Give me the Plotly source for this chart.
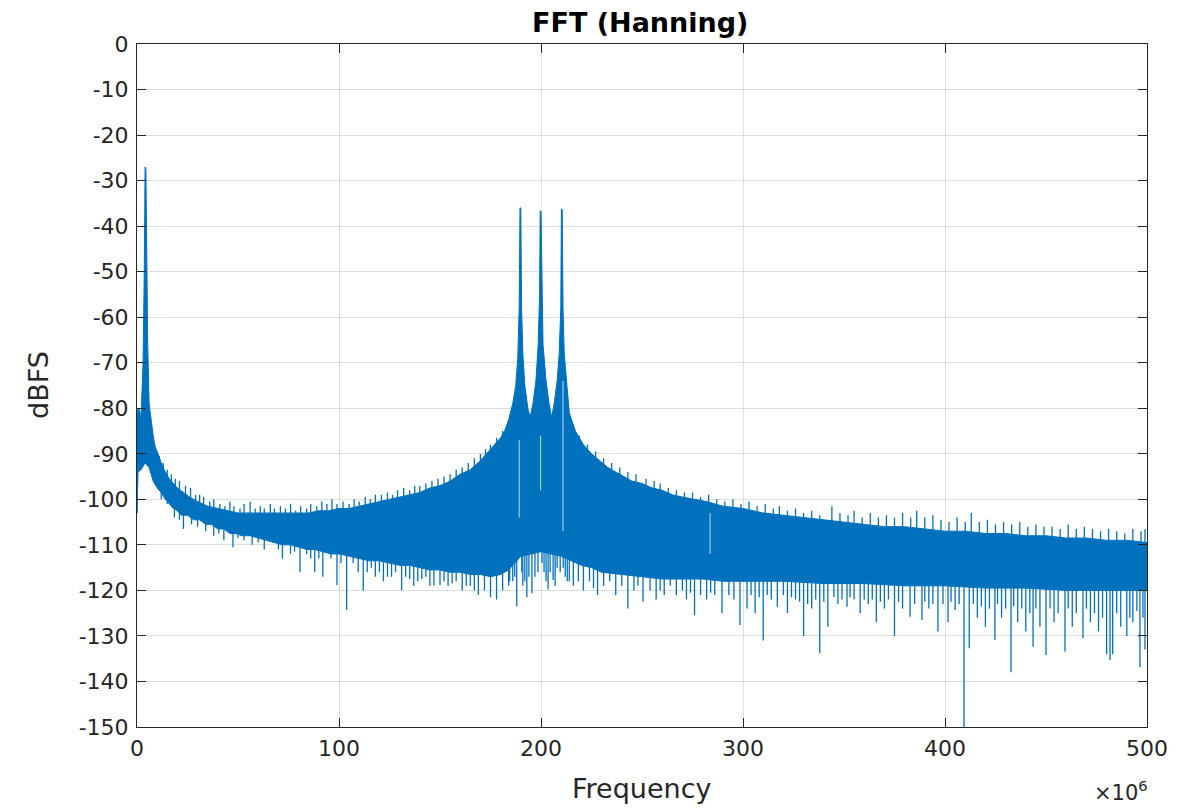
import plotly.graph_objects as go

# ---------------- data ----------------
# frequency in MHz (axis shows x10^6 Hz), level in dBFS

# solid body of the spectrum: top edge
upper_f = [0, 1, 2, 3, 3.6, 4.0, 4.4, 4.8, 5.3, 6, 7, 8, 9, 10, 12, 14, 16, 18, 20, 23, 26,
           30, 35, 40, 45, 50, 55, 60, 65, 70, 75, 80, 85, 90, 95, 100, 105, 110, 115, 120,
           125, 130, 135, 140, 145, 150, 155, 160, 165, 170, 174, 177, 180, 182, 184, 186,
           187.5, 188.5, 189.2, 189.6, 190.0, 190.4, 191, 192, 193.5, 194.6, 196, 197.5,
           198.6, 199.3, 199.6, 200.0, 200.4, 201, 202.5, 204, 205.3, 206.5, 208, 209,
           209.8, 210.1, 210.5, 210.9, 211.5, 212.5, 214, 217, 221, 225, 229, 233, 237,
           241, 245, 250, 255, 260, 265, 270, 276, 282, 290, 300, 310, 320, 330, 340, 350,
           360, 370, 380, 390, 400, 410, 420, 430, 440, 450, 460, 470, 480, 490, 500]
upper_db = [-81, -80, -82, -70, -50, -27, -27.5, -55, -66, -79, -83, -86, -88.5, -89.5, -92,
            -94, -95.5, -96.5, -97.5, -98.5, -99.5, -100.5, -101.5, -102, -102.5, -103, -103,
            -103, -103, -103, -103, -103, -103, -102.5, -102.5, -102, -102, -101.5, -101,
            -100.5, -100, -99.5, -99, -98.5, -97.5, -97, -96, -94.5, -93.5, -91.5, -89.5,
            -88, -86.5, -85, -82.5, -79, -75, -69, -58, -36, -36, -58, -68, -75, -80, -82,
            -79, -74, -66, -55, -36.7, -36.7, -55, -66, -74, -79, -82, -79, -74, -68, -58,
            -36.3, -36.3, -58, -68, -74, -81, -85, -88, -90, -91.5, -93, -94, -95, -96,
            -96.5, -97.5, -98, -99, -99.5, -100, -100.5, -101.5, -102, -103, -103.5, -104,
            -104.5, -105, -105.5, -106, -106, -106.5, -107, -107, -107.5, -107.5, -108, -108,
            -108.5, -108.5, -109, -109, -109.5]

# solid body of the spectrum: bottom edge
lower_f = [0, 0.5, 2, 4, 6, 8, 10, 12, 14, 16, 18, 20, 22, 25, 28, 31, 34, 37, 40, 43, 46,
           49, 52, 56, 60, 64, 68, 72, 76, 80, 84, 88, 92, 96, 100, 105, 110, 115, 120, 125,
           130, 135, 140, 145, 150, 155, 160, 165, 170, 175, 180, 184, 187, 190, 195, 200,
           205, 210, 215, 220, 225, 230, 240, 250, 260, 270, 280, 290, 300, 320, 340, 360,
           380, 400, 420, 440, 460, 480, 500]
lower_db = [-103, -94, -93.5, -92, -93, -96, -97.5, -98.5, -100, -101, -102, -102.5, -103.5,
            -103.5, -104.5, -104.5, -105.5, -105.5, -106.5, -106.5, -107.5, -107.5, -108,
            -108, -108.5, -109, -109.5, -110, -110, -110.5, -111, -111, -111.5, -112, -112,
            -112.5, -113, -113.5, -113.5, -114, -114.5, -114.5, -115, -115.5, -115.5, -116,
            -116, -116.5, -116.5, -117, -116.5, -115.5, -114, -112.5, -112, -111.5, -112,
            -112.5, -113.5, -114.5, -115, -116, -116.5, -117, -117.5, -117.5, -117.5, -118,
            -118, -118, -118.5, -118.5, -119, -119, -119.5, -119.5, -120, -120, -120]

# short upward hairs above the body: frequency, tip, end inside the body
up_f = [11, 13, 15, 17, 19, 21, 24, 26.5, 29, 31,
        33, 36, 38, 41, 43.5, 46, 48, 51, 53, 56,
        58.5, 61, 63, 66, 68, 71, 73.5, 76, 78.5, 81,
        84, 86, 89, 91.5, 94, 96.5, 99, 102, 105, 107.5,
        110, 113, 115.5, 118, 121, 124, 126.5, 129, 132, 135,
        137.5, 140, 143, 146, 149, 152, 155, 158, 161, 164,
        167, 170, 172.5, 175, 178, 181, 216, 219, 223, 227,
        231, 235, 239, 243, 247, 252, 256, 259, 263, 267,
        271, 275, 279, 283, 287, 291, 295, 299, 303, 307,
        311, 315, 318, 322, 326, 330, 334, 338, 344, 348,
        352, 355, 359, 363, 367, 371, 375, 379, 383, 386,
        390, 394, 398, 402, 406, 410, 413, 417, 421, 425,
        429, 433, 437, 441, 445, 449, 453, 457, 461, 465,
        469, 473, 477, 481, 485, 489, 493, 497, 499]
up_hi = [-90.5, -92, -93.5, -94.5, -95.5, -96, -97, -97.5, -99, -99,
         -99.5, -100.5, -100, -101, -101.5, -100.5, -101.5, -102, -101, -100.5,
         -102, -101.5, -102, -101, -102, -101.5, -102, -101, -102.5, -101.5,
         -102, -101, -101.5, -100.5, -101, -100, -101, -100.5, -101, -100,
         -100.5, -99.5, -100, -99, -99, -98.5, -99, -98, -97.5, -98,
         -97, -97, -96.5, -96, -95.5, -95, -94.5, -93.5, -93, -92,
         -91, -90, -89, -88, -86.5, -85, -83.5, -86, -88, -89.5,
         -91, -92, -93, -94, -94.5, -95.5, -96, -96.5, -97.5, -98,
         -98.5, -98.5, -99.5, -99, -100, -100.5, -100, -101, -100.5, -101.5,
         -101, -102, -101.5, -102.5, -102, -103, -102.5, -103.5, -101.5, -103,
         -103.5, -102.5, -104, -103, -104, -103.5, -104, -103, -104, -102.5,
         -104, -103.5, -104.5, -105, -104, -105, -103, -105, -104.5, -105.5,
         -105, -105.5, -105, -106, -105.5, -106, -106, -106.5, -105.5, -106.5,
         -106, -106.5, -107, -106.5, -107, -107.5, -106.5, -107, -106.5]
up_lo = [-96, -97, -98, -99, -100, -101, -102, -103, -103, -104,
         -104, -105, -105, -105, -106, -106, -106, -107, -107, -107,
         -107, -107, -107, -107, -108, -108, -108, -108, -108, -108,
         -108, -108, -108, -108, -108, -108, -108, -108, -108, -108,
         -108, -108, -108, -108, -108, -108, -108, -108, -108, -108,
         -108, -108, -108, -108, -108, -108, -108, -108, -108, -108,
         -108, -108, -108, -108, -108, -108, -110, -110, -110, -110,
         -110, -110, -110, -110, -110, -110, -110, -110, -110, -110,
         -110, -110, -110, -110, -110, -110, -110, -110, -112, -112,
         -112, -112, -112, -112, -112, -112, -112, -112, -112, -112,
         -112, -112, -112, -112, -112, -112, -112, -112, -112, -112,
         -112, -112, -112, -112, -112, -112, -112, -112, -112, -112,
         -112, -112, -112, -112, -112, -112, -112, -112, -112, -112,
         -112, -112, -112, -112, -112, -112, -112, -112, -112]

# downward dips below the body: frequency, start inside the body, lowest point
dip_f = [0.0, 12, 15, 18.5, 21, 23, 27, 30, 34, 38,
         40.5, 43, 47.5, 50, 53, 57, 60, 63, 67, 70,
         72, 76, 78, 80.7, 84, 86, 88, 90, 92, 96,
         99, 101, 103.8, 107, 109.5, 112, 114, 116, 118, 120,
         122, 124, 126, 128, 131, 133, 135, 137, 139, 141,
         143, 145, 147, 150, 152, 154, 156, 158, 161, 163,
         165, 167, 169, 172, 175, 178, 181, 184, 186, 188,
         191, 193, 195.5, 197, 201.5, 203.5, 206, 208, 212, 214,
         216, 218.5, 221, 224, 226, 228, 231, 234, 237, 240,
         243, 246, 248, 250.5, 254, 257, 259, 261, 264, 267,
         270, 272, 274, 276, 279, 282, 284, 286, 289.6, 293,
         295.5, 298.5, 302, 304, 306, 308, 310, 312, 314, 317,
         320, 322, 324, 326, 328, 330, 332, 334, 336, 338,
         340, 342, 345, 347, 349, 351.5, 353, 355, 358, 360,
         362, 364, 366, 368, 370, 372, 375, 377, 379, 382.7,
         385, 388.6, 390, 392, 394, 396.5, 399, 401.5, 403, 405,
         407, 409.4, 412, 414, 416, 418, 420, 422, 424.7, 426,
         428, 430, 432.7, 434, 436, 438, 440, 442, 443.6, 445,
         447, 450, 452, 454, 456, 459.4, 461, 463, 465, 468.3,
         470, 472, 474, 476, 478, 480, 481.7, 483, 485, 487,
         490, 491.5, 493, 495, 496.5, 498, 499,
         184.5, 187, 190.5, 192, 194, 198.5, 200.5, 202.5, 204.5, 207,
         209.5, 211, 213]
dip_hi = [-80, -95, -97, -99, -100, -100, -101, -101, -102, -103,
          -103, -104, -104, -104, -105, -105, -105, -106, -106, -106,
          -107, -107, -107, -107, -108, -108, -108, -108, -108, -109,
          -109, -109, -109, -109, -110, -110, -110, -110, -110, -110,
          -111, -111, -111, -111, -111, -111, -111, -111, -111, -111,
          -112, -112, -112, -112, -112, -112, -112, -112, -112, -112,
          -113, -113, -113, -113, -114, -114, -114, -113, -111, -108,
          -108, -108, -108, -107, -107, -107, -107, -108, -109, -110,
          -111, -112, -112, -112, -113, -113, -113, -114, -114, -114,
          -114, -114, -114, -115, -115, -115, -115, -115, -115, -115,
          -115, -115, -115, -115, -115, -115, -115, -115, -115, -115,
          -115, -115, -116, -116, -116, -116, -116, -116, -116, -116,
          -116, -116, -116, -116, -116, -116, -116, -116, -116, -116,
          -116, -116, -116, -116, -116, -116, -116, -116, -116, -116,
          -116, -116, -116, -116, -116, -116, -116, -116, -116, -116,
          -117, -117, -117, -117, -117, -117, -117, -117, -117, -117,
          -117, -117, -117, -117, -117, -117, -117, -117, -117, -117,
          -117, -117, -117, -117, -117, -117, -117, -117, -117, -117,
          -117, -117, -117, -117, -117, -117, -117, -117, -117, -117,
          -117, -117, -117, -117, -117, -117, -117, -117, -117, -117,
          -117, -117, -117, -117, -117, -117, -117,
          -112, -110, -108, -108, -108, -108, -108, -108, -108, -108,
          -108, -109, -110]
dip_lo = [-103, -100, -101, -104, -104.5, -106.5, -105.5, -106, -107, -108,
          -107.5, -109, -110.5, -108.5, -109, -110, -109.5, -111, -109.5, -111,
          -113, -112, -111.5, -116, -112, -113, -116, -113, -117, -113,
          -118.8, -114, -124.3, -114, -116, -120, -116, -115, -117, -116,
          -118, -117, -117, -116, -120, -117, -117.5, -119, -118, -117.5,
          -117, -119, -119, -118.8, -118, -119, -118.5, -118, -120, -119,
          -119, -120, -121, -120, -121.5, -122, -120, -119, -118, -123.5,
          -119, -121.5, -120.6, -117, -116, -119.8, -117.7, -115, -117, -118,
          -119, -118, -120, -118, -119.5, -121, -119, -118, -121, -119,
          -124, -120, -119, -122.5, -120, -122, -120, -121, -119, -121,
          -120, -122, -120.5, -125.4, -121, -122, -120.5, -121, -125, -121,
          -122, -127.6, -124, -121, -125, -121.5, -131, -121, -122, -123.6,
          -121, -125, -121.5, -122, -122.5, -130, -123, -124, -122, -133.8,
          -122.5, -128, -121.5, -123, -122, -123.6, -121.5, -122, -125, -122,
          -123, -122, -127, -122.5, -124, -122, -130, -122.5, -124, -125.8,
          -123, -126.5, -122.5, -124, -123, -129, -123, -127, -122.5, -124.3,
          -123, -150, -132.7, -123, -126, -123.5, -128, -124, -130.9, -123,
          -126, -124, -138, -123.5, -127, -124, -129, -125, -132.4, -124,
          -128, -134.2, -124, -127, -125, -133.5, -124, -128, -125, -130.5,
          -124, -127, -125, -129, -126, -134, -135.3, -134, -125, -128,
          -130, -126, -127, -124.5, -136.8, -126, -133,
          -118, -117, -116, -118, -117, -116, -114, -118, -116, -119,
          -116, -115, -118]

# light gaps inside the band next to the three tones
gap_f = [189.2, 199.8, 210.9, 283.7]
gap_top = [-87, -86, -74, -103]
gap_bottom = [-104, -98, -107, -112]

x_ticks = [0, 100, 200, 300, 400, 500]
y_ticks = list(range(-150, 1, 10))

assert len(upper_f) == len(upper_db)
assert len(lower_f) == len(lower_db)
assert len(up_f) == len(up_hi) == len(up_lo)
assert len(dip_f) == len(dip_hi) == len(dip_lo)

# ---------------- figure ----------------
BLUE = "#0072BD"
INK = "#262626"
FONT = "DejaVu Sans, Liberation Sans, Arial, sans-serif"

fig = go.Figure()

band_x = upper_f + lower_f[::-1]
band_y = upper_db + lower_db[::-1]
fig.add_trace(go.Scatter(x=band_x, y=band_y, mode="lines", fill="toself",
                         fillcolor=BLUE, line=dict(color=BLUE, width=1),
                         hoverinfo="skip", showlegend=False))


def segments(fs, a, b):
    xs, ys = [], []
    for f, y1, y2 in zip(fs, a, b):
        xs += [f, f, None]
        ys += [y1, y2, None]
    return xs, ys


hx, hy = segments(up_f, up_hi, up_lo)
fig.add_trace(go.Scatter(x=hx, y=hy, mode="lines", line=dict(color=BLUE, width=1.3),
                         hoverinfo="skip", showlegend=False))

dx, dy = segments(dip_f, dip_hi, dip_lo)
fig.add_trace(go.Scatter(x=dx, y=dy, mode="lines", line=dict(color=BLUE, width=1.3),
                         hoverinfo="skip", showlegend=False))

gx, gy = segments(gap_f, gap_top, gap_bottom)
fig.add_trace(go.Scatter(x=gx, y=gy, mode="lines",
                         line=dict(color="rgba(255,255,255,0.75)", width=1),
                         hoverinfo="skip", showlegend=False))

axis_common = dict(showline=True, linecolor=INK, linewidth=1, mirror="allticks",
                   ticks="inside", ticklen=9, tickcolor=INK, tickwidth=1,
                   showgrid=True, gridcolor="rgba(0,0,0,0.13)", gridwidth=1,
                   zeroline=False, tickfont=dict(family=FONT, size=22, color=INK))

fig.update_xaxes(range=[0, 500], tickvals=x_ticks, ticktext=[str(v) for v in x_ticks],
                 ticklabelstandoff=2, **axis_common)
fig.update_yaxes(range=[-150, 0], tickvals=y_ticks, ticktext=[str(v) for v in y_ticks],
                 ticklabelstandoff=3, **axis_common)

L, R, T, B = 137, 48, 44, 82
W, H = 1195, 809
pw, ph = W - L - R, H - T - B


def px(xp):
    return (xp - L) / pw


def py(yp):
    return (H - B - yp) / ph


fig.update_layout(
    width=W, height=H,
    margin=dict(l=L, r=R, t=T, b=B, pad=0),
    paper_bgcolor="white", plot_bgcolor="white",
    showlegend=False,
    annotations=[
        dict(text="<b>FFT (Hanning)</b>", xref="paper", yref="paper",
             x=px(640), y=py(22), xanchor="center", yanchor="middle", showarrow=False,
             font=dict(family=FONT, size=27, color="black")),
        dict(text="Frequency", xref="paper", yref="paper",
             x=px(642), y=py(788), xanchor="center", yanchor="middle", showarrow=False,
             font=dict(family=FONT, size=27, color=INK)),
        dict(text="dBFS", xref="paper", yref="paper", textangle=-90,
             x=px(38), y=py(385), xanchor="center", yanchor="middle", showarrow=False,
             font=dict(family=FONT, size=27, color=INK)),
        dict(text="×10<sup>6</sup>", xref="paper", yref="paper",
             x=px(1150), y=py(791), xanchor="right", yanchor="middle", showarrow=False,
             font=dict(family=FONT, size=21, color=INK)),
    ],
)

fig.write_html("out.html")
